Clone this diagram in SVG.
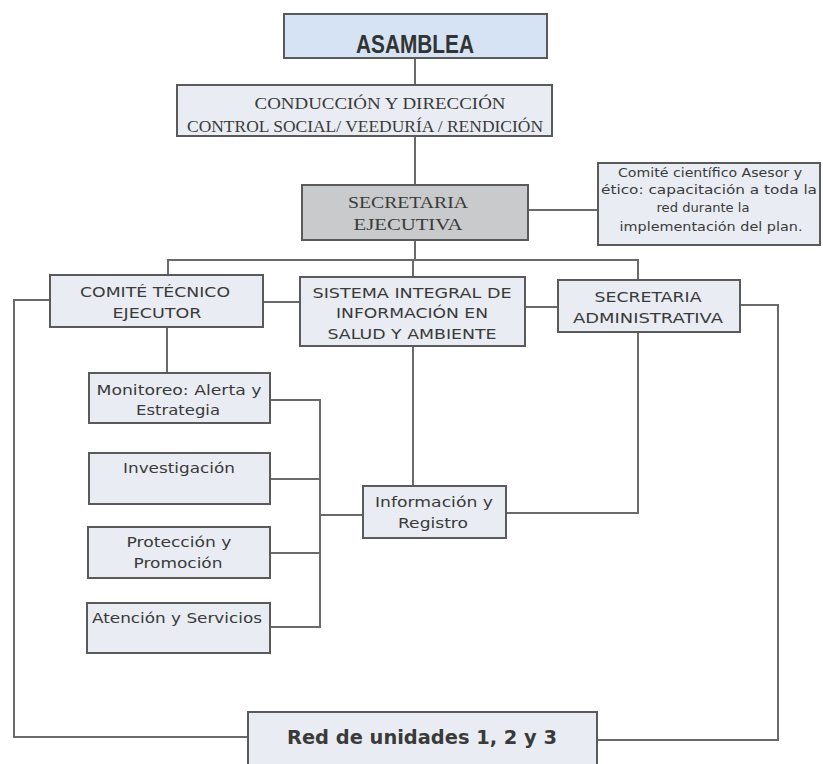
<svg xmlns="http://www.w3.org/2000/svg" width="823" height="764" viewBox="0 0 823 764">
<style>
.box{fill:#e9edf3;stroke:#5a5a5a;stroke-width:2}
.ln{fill:none;stroke:#6a6a6a;stroke-width:2}
.v{font-family:"DejaVu Sans","Liberation Sans",sans-serif;fill:#3a3a3a;text-anchor:middle}
.s{font-family:"Liberation Serif","Times New Roman",serif;fill:#3a3a3a;text-anchor:middle}
</style>
<rect width="823" height="764" fill="#ffffff"/>
<g id="connectors">
<path class="ln" d="M415 58V85"/>
<path class="ln" d="M415 136V185"/>
<path class="ln" d="M415 240V260"/>
<path class="ln" d="M168 275V260H638V280"/>
<path class="ln" d="M413 260V277"/>
<path class="ln" d="M528 210H598"/>
<path class="ln" d="M263 302H300"/>
<path class="ln" d="M525 307H558"/>
<path class="ln" d="M167 327V373"/>
<path class="ln" d="M413 346V486"/>
<path class="ln" d="M638 332V513H506"/>
<path class="ln" d="M270 400H320V627H270"/>
<path class="ln" d="M270 479H320"/>
<path class="ln" d="M270 553H320"/>
<path class="ln" d="M320 515H363"/>
<path class="ln" d="M50 300H14V737H248"/>
<path class="ln" d="M740 305H778V740H597"/>
</g>
<g id="asamblea">
<rect x="284" y="14" width="263" height="44" fill="#d6e3f4" stroke="#5a5a5a" stroke-width="2"/>
<text x="415" y="53" font-family="'Liberation Sans',Arial,sans-serif" font-weight="bold" font-size="25" fill="#333" text-anchor="middle" textLength="118" lengthAdjust="spacingAndGlyphs">ASAMBLEA</text>
</g>
<g id="conduccion">
<rect x="177" y="85" width="375" height="51" class="box"/>
<text class="s" x="380" y="109" font-size="16" textLength="251" lengthAdjust="spacingAndGlyphs">CONDUCCIÓN Y DIRECCIÓN</text>
<text class="s" x="365" y="132" font-size="16" textLength="356" lengthAdjust="spacingAndGlyphs">CONTROL SOCIAL/ VEEDURÍA / RENDICIÓN</text>
</g>
<g id="secretaria-ejecutiva">
<rect x="302" y="185" width="226" height="55" fill="#c9cacc" stroke="#5a5a5a" stroke-width="2"/>
<text class="s" x="408" y="208" font-size="17" fill="#555" textLength="120" lengthAdjust="spacingAndGlyphs">SECRETARIA</text>
<text class="s" x="408" y="230" font-size="17" fill="#555" textLength="109" lengthAdjust="spacingAndGlyphs">EJECUTIVA</text>
</g>
<g id="comite-cientifico">
<rect x="598" y="163" width="222" height="82" class="box"/>
<text class="v" x="710" y="177" font-size="11.5" textLength="184" lengthAdjust="spacingAndGlyphs">Comité científico Asesor y</text>
<text class="v" x="709" y="194" font-size="11.5" textLength="216" lengthAdjust="spacingAndGlyphs">ético: capacitación a toda la</text>
<text class="v" x="703" y="212" font-size="11.5" textLength="93" lengthAdjust="spacingAndGlyphs">red durante la</text>
<text class="v" x="711" y="231" font-size="11.5" textLength="183" lengthAdjust="spacingAndGlyphs">implementación del plan.</text>
</g>
<g id="comite-tecnico">
<rect x="50" y="275" width="213" height="52" class="box"/>
<text class="v" x="155" y="297" font-size="14" textLength="150" lengthAdjust="spacingAndGlyphs">COMITÉ TÉCNICO</text>
<text class="v" x="157" y="318" font-size="14" textLength="89" lengthAdjust="spacingAndGlyphs">EJECUTOR</text>
</g>
<g id="sistema-integral">
<rect x="300" y="277" width="225" height="69" class="box"/>
<text class="v" x="412" y="298" font-size="14" textLength="199" lengthAdjust="spacingAndGlyphs">SISTEMA INTEGRAL DE</text>
<text class="v" x="412" y="318" font-size="14" textLength="152" lengthAdjust="spacingAndGlyphs">INFORMACIÓN EN</text>
<text class="v" x="412" y="339" font-size="14" textLength="169" lengthAdjust="spacingAndGlyphs">SALUD Y AMBIENTE</text>
</g>
<g id="secretaria-administrativa">
<rect x="558" y="280" width="182" height="52" class="box"/>
<text class="v" x="648" y="302" font-size="14" textLength="107" lengthAdjust="spacingAndGlyphs">SECRETARIA</text>
<text class="v" x="648" y="323" font-size="14" textLength="150" lengthAdjust="spacingAndGlyphs">ADMINISTRATIVA</text>
</g>
<g id="monitoreo">
<rect x="89" y="373" width="181" height="50" class="box"/>
<text class="v" x="179" y="395" font-size="13.5" textLength="165" lengthAdjust="spacingAndGlyphs">Monitoreo: Alerta y</text>
<text class="v" x="178" y="415" font-size="13.5" textLength="84" lengthAdjust="spacingAndGlyphs">Estrategia</text>
</g>
<g id="investigacion">
<rect x="89" y="453" width="181" height="51" class="box"/>
<text class="v" x="179" y="473" font-size="13.5" textLength="112" lengthAdjust="spacingAndGlyphs">Investigación</text>
</g>
<g id="proteccion">
<rect x="88" y="527" width="182" height="51" class="box"/>
<text class="v" x="179" y="547" font-size="13.5" textLength="105" lengthAdjust="spacingAndGlyphs">Protección y</text>
<text class="v" x="178" y="568" font-size="13.5" textLength="89" lengthAdjust="spacingAndGlyphs">Promoción</text>
</g>
<g id="atencion">
<rect x="87" y="603" width="183" height="50" class="box"/>
<text class="v" x="177" y="623" font-size="13.5" textLength="170" lengthAdjust="spacingAndGlyphs">Atención y Servicios</text>
</g>
<g id="informacion-registro">
<rect x="363" y="486" width="143" height="52" class="box"/>
<text class="v" x="434" y="507" font-size="13.5" textLength="118" lengthAdjust="spacingAndGlyphs">Información y</text>
<text class="v" x="433" y="528" font-size="13.5" textLength="70" lengthAdjust="spacingAndGlyphs">Registro</text>
</g>
<g id="red-unidades">
<rect x="248" y="712" width="349" height="56" class="box"/>
<text x="422" y="744" font-family="'DejaVu Sans','Liberation Sans',sans-serif" font-weight="bold" font-size="20" fill="#3a3a3a" text-anchor="middle" textLength="270" lengthAdjust="spacingAndGlyphs">Red de unidades 1, 2 y 3</text>
</g>
</svg>
